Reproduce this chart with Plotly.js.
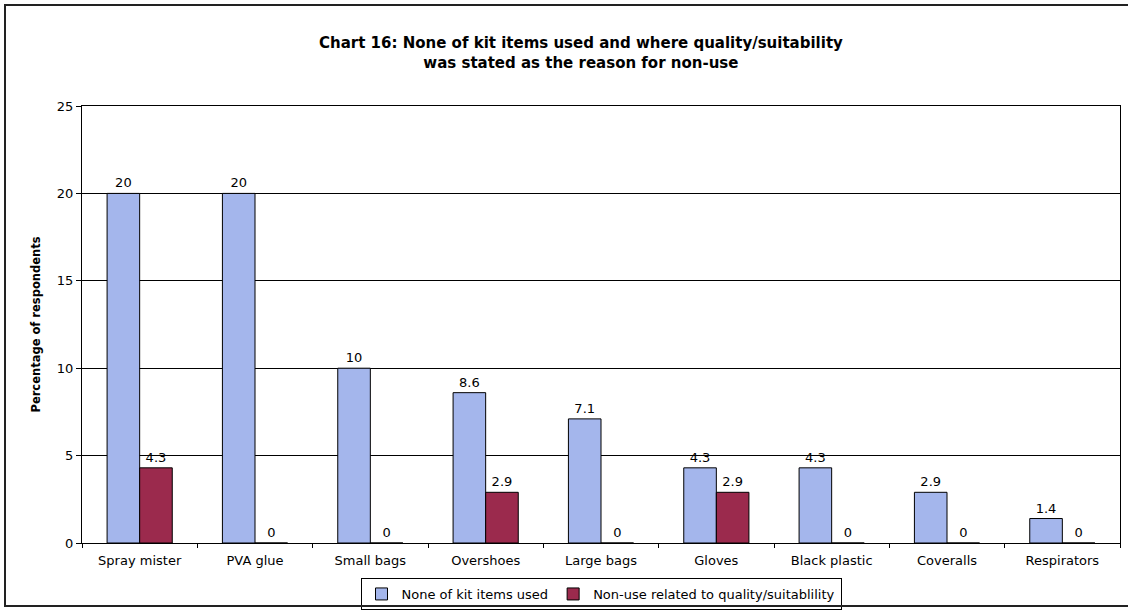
<!DOCTYPE html>
<html>
<head>
<meta charset="utf-8">
<script src="https://cdn.plot.ly/plotly-3.0.1.min.js"></script>
<style>
  html, body { margin: 0; padding: 0; background: #fff; }
  #wrap { position: relative; width: 1128px; height: 611px; overflow: hidden; }
  #chart { width: 1128px; height: 611px; }
  #frame { position: absolute; left: 4px; top: 4px; width: 1140px; height: 603px; border: 2px solid #222; box-sizing: border-box; pointer-events: none; }
</style>
</head>
<body>
<div id="wrap">
<div id="chart"></div>
<div id="frame"></div>
</div>
<script>
const categories = ["Spray mister", "PVA glue", "Small bags", "Overshoes", "Large bags", "Gloves", "Black plastic", "Coveralls", "Respirators"];
const noneUsed = [20, 20, 10, 8.6, 7.1, 4.3, 4.3, 2.9, 1.4];
const qualityNonUse = [4.3, 0, 0, 2.9, 0, 2.9, 0, 0, 0];
const seriesNames = ["None of kit items used", "Non-use related to quality/suitablility"];
const yTicks = [0, 5, 10, 15, 20, 25];

const FONT = "DejaVu Sans, Verdana, sans-serif";

const traces = [
  {
    type: "bar", name: seriesNames[0], x: categories, y: noneUsed,
    text: noneUsed.map(String), textposition: "outside", cliponaxis: false,
    textfont: { family: FONT, size: 13, color: "#000" },
    marker: { color: "#A4B6EC", line: { color: "#000", width: 1 } }
  },
  {
    type: "bar", name: seriesNames[1], x: categories, y: qualityNonUse,
    text: qualityNonUse.map(String), textposition: "outside", cliponaxis: false,
    textfont: { family: FONT, size: 13, color: "#000" },
    marker: { color: "#9B2A4D", line: { color: "#000", width: 1 } }
  }
];

const layout = {
  width: 1128, height: 611,
  margin: { l: 82, r: 8, t: 106, b: 68 },
  paper_bgcolor: "#fff", plot_bgcolor: "#fff",
  font: { family: FONT, color: "#000", size: 13 },
  title: {
    text: "<b>Chart 16: None of kit items used and where quality/suitability<br>was stated as the reason for non-use</b>",
    x: 0.515, xanchor: "center", y: 1 - 48 / 611, yanchor: "top",
    font: { family: FONT, size: 15, color: "#000" }
  },
  barmode: "group", bargap: 0.435, bargroupgap: 0,
  showlegend: true,
  legend: {
    orientation: "h", xref: "paper", x: 0.5, xanchor: "center",
    yref: "container", y: 1 - 578 / 611, yanchor: "top",
    bordercolor: "#000", borderwidth: 1, font: { family: FONT, size: 13 },
    itemwidth: 30, tracegroupgap: 0
  },
  xaxis: {
    type: "category", showline: true, linecolor: "#000", linewidth: 1, mirror: true,
    ticks: "outside", tickson: "boundaries", ticklen: 4, tickcolor: "#000",
    ticklabelstandoff: 5,
    showgrid: false, tickfont: { family: FONT, size: 13 }
  },
  yaxis: {
    range: [0, 25], tickvals: yTicks, ticks: "outside", ticklen: 5, tickcolor: "#000",
    showline: true, linecolor: "#000", linewidth: 1, mirror: true,
    showgrid: true, gridcolor: "#000", gridwidth: 1, zeroline: false,
    tickfont: { family: FONT, size: 13 },
    title: { text: "<b>Percentage of respondents</b>", font: { family: FONT, size: 11.5 }, standoff: 13 }
  }
};

Plotly.newPlot("chart", traces, layout, { displayModeBar: false, staticPlot: true });
</script>
</body>
</html>
